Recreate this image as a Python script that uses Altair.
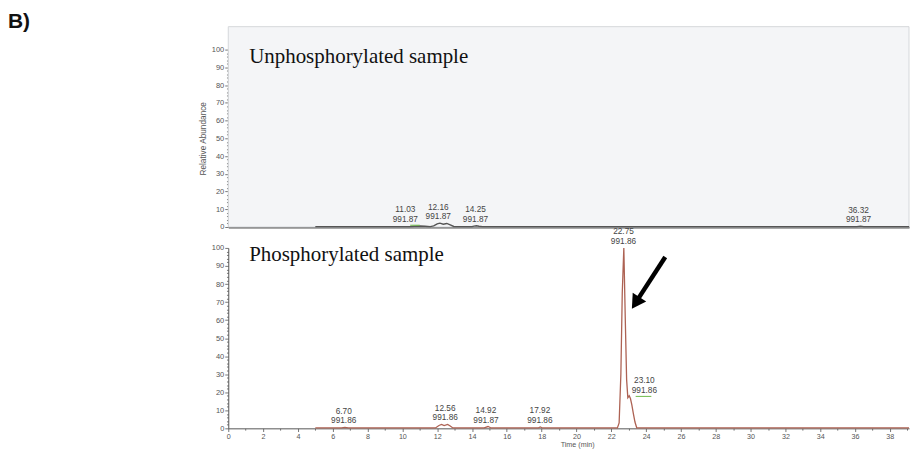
import altair as alt
import pandas as pd

# ---------------- data ----------------
# Unphosphorylated sample trace (time in min, relative abundance %)
top_time = [5.0, 10.4, 10.7, 11.0, 11.3, 11.6, 11.8, 12.0, 12.16, 12.35, 12.55, 12.75, 12.95, 13.2,
            14.0, 14.12, 14.25, 14.4, 14.6, 20.0, 30.0, 36.1, 36.32, 36.5, 39.1]
top_abund = [0.2, 0.2, 0.4, 0.6, 0.4, 0.2, 0.6, 1.8, 2.2, 1.6, 2.0, 1.2, 0.3, 0.2,
             0.2, 0.5, 0.7, 0.4, 0.2, 0.2, 0.2, 0.2, 0.5, 0.2, 0.2]

# Phosphorylated sample trace
bot_time = [5.0, 6.5, 6.7, 6.9, 11.9, 12.1, 12.25, 12.4, 12.6, 12.75, 12.9,
            14.7, 14.92, 15.1, 17.8, 17.92, 18.05,
            22.35, 22.45, 22.55, 22.63, 22.72, 22.8, 22.88, 22.95, 23.03, 23.1, 23.18, 23.27, 23.36, 23.46, 39.1]
bot_abund = [0.2, 0.2, 0.5, 0.2, 0.2, 1.6, 2.2, 1.5, 2.2, 1.3, 0.2,
             0.2, 1.0, 0.2, 0.2, 0.8, 0.2,
             0.2, 3.0, 30.0, 75.0, 100.0, 62.0, 27.0, 17.0, 18.0, 16.5, 13.0, 8.0, 3.5, 0.3, 0.2]

# Peak annotations (retention time, m/z) and where their labels sit
top_rt = ["11.03", "12.16", "14.25", "36.32"]
top_mz = ["991.87", "991.87", "991.87", "991.87"]
top_lab_x = [10.17, 12.06, 14.2, 36.2]
top_lab_y = [0.6, 2.2, 0.7, 0.5]

bot_rt = ["6.70", "12.56", "14.92", "17.92", "22.75", "23.10"]
bot_mz = ["991.86", "991.86", "991.87", "991.86", "991.86", "991.86"]
bot_lab_x = [6.63, 12.46, 14.8, 17.9, 22.7, 23.9]
bot_lab_y = [0.5, 2.2, 1.0, 0.8, 100.0, 17.5]

# green integration baseline marks
top_green_x = [10.45]
top_green_x2 = [11.0]
top_green_y = [1.0]
bot_green_x = [23.4]
bot_green_x2 = [24.3]
bot_green_y = [17.7]

# arrow (bottom panel)
arrow_x = [25.1]
arrow_y = [95.0]
arrow_x2 = [23.52]
arrow_y2 = [71.5]
head_x = [23.4]
head_y = [69.5]

panel_titles = ["Unphosphorylated sample", "Phosphorylated sample"]
title_x = [1.2]
title_y = [92.5]

x_ticks = list(range(0, 40))
y_ticks = list(range(0, 101, 2))

# ---------------- chart ----------------
W = 683
H_TOP = 178
H_BOT = 181
XMAX = 39.1
AX = "#555555"
TRACE_TOP = "#555555"
TRACE_BOT = "#ad6253"
FONT = "Liberation Sans"

xs = alt.Scale(domain=[0, XMAX], nice=False, zero=False)
ys = alt.Scale(domain=[0, 100], nice=False)

y_axis_common = dict(
    values=y_ticks,
    labelExpr="datum.value % 10 === 0 ? datum.label : ''",
    tickSize={"condition": {"test": "datum.value % 10 === 0", "value": 3.5}, "value": 1.8},
    labelFontSize=7.5, labelFont=FONT, labelColor=AX, labelPadding=1,
    labelOverlap=False, labelFlush=False,
    domainColor=AX, tickColor=AX, domainWidth=1, tickWidth=0.8, grid=False,
)

top_x_enc = alt.X("t:Q", scale=xs,
                  axis=alt.Axis(domain=True, domainColor=AX, domainWidth=2, ticks=False,
                                labels=False, title=None, grid=False))
top_y_enc = alt.Y("a:Q", scale=ys,
                  axis=alt.Axis(title="Relative Abundance", titleFont=FONT, titleFontSize=8.3,
                                titleFontWeight="normal", titleColor=AX, titlePadding=4,
                                **y_axis_common))
bot_x_enc = alt.X("t:Q", scale=xs,
                  axis=alt.Axis(values=x_ticks,
                                labelExpr="datum.value % 2 === 0 ? datum.label : ''",
                                tickSize={"condition": {"test": "datum.value % 2 === 0", "value": 3.2},
                                          "value": 1.8},
                                labelFontSize=7.2, labelFont=FONT, labelColor=AX, labelPadding=1.5,
                                labelOverlap=False, labelFlush=False,
                                domainColor=AX, tickColor=AX, domainWidth=1, tickWidth=0.8,
                                grid=False, title="Time (min)", titleFont=FONT, titleFontSize=7.2,
                                titleFontWeight="normal", titleColor=AX, titlePadding=0,
                                titleX=350))
bot_y_enc = alt.Y("a:Q", scale=ys, axis=alt.Axis(title=None, **y_axis_common))


def labels_layers(rt, mz, lx, ly):
    df = pd.DataFrame({"t": lx, "a": ly, "rt": rt, "mz": mz})
    base = alt.Chart(df)
    l1 = base.mark_text(fontSize=8.3, font=FONT, color="#444", baseline="bottom", dy=-11.5).encode(
        text="rt:N")
    l2 = base.mark_text(fontSize=8.3, font=FONT, color="#444", baseline="bottom", dy=-2).encode(
        text="mz:N")
    return [l1, l2]


def green_layer(gx, gx2, gy):
    df = pd.DataFrame({"t": gx, "t2": gx2, "a": gy})
    return alt.Chart(df).mark_rule(color="#6dbb4a", strokeWidth=1).encode(x2="t2:Q")


def title_layer(txt):
    df = pd.DataFrame({"t": title_x, "a": title_y, "txt": [txt]})
    return alt.Chart(df).mark_text(font="Liberation Serif", fontSize=21, color="#111",
                                   align="left", baseline="alphabetic").encode(text="txt:N")


# ---- top panel ----
one = pd.DataFrame({"z": [0]})
top_bg = alt.Chart(one).mark_rect(fill="#f4f5f7", stroke="#d6d8db", strokeWidth=1).encode(
    x=alt.value(0), x2=alt.value(W), y=alt.value(-23), y2=alt.value(H_TOP))

top_line = alt.Chart(pd.DataFrame({"t": top_time, "a": top_abund})).mark_line(
    color=TRACE_TOP, strokeWidth=1.4).encode(order="t:Q")

b_label = alt.Chart(one).mark_text(text="B)", font=FONT, fontSize=21, fontWeight="bold",
                                   color="#111", align="left", baseline="alphabetic").encode(
    x=alt.value(-221), y=alt.value(-22))

top = alt.layer(top_bg, top_line, *labels_layers(top_rt, top_mz, top_lab_x, top_lab_y),
                green_layer(top_green_x, top_green_x2, top_green_y),
                title_layer(panel_titles[0]), b_label).encode(
    x=top_x_enc, y=top_y_enc).properties(width=W, height=H_TOP)

# ---- bottom panel ----
bot_line = alt.Chart(pd.DataFrame({"t": bot_time, "a": bot_abund})).mark_line(
    color=TRACE_BOT, strokeWidth=1.3).encode(order="t:Q")

arrow_df = pd.DataFrame({"t": arrow_x, "a": arrow_y, "t2": arrow_x2, "a2": arrow_y2})
arrow_shaft = alt.Chart(arrow_df).mark_rule(color="black", strokeWidth=4.5).encode(
    x2="t2:Q", y2="a2:Q")
arrow_head = alt.Chart(pd.DataFrame({"t": head_x, "a": head_y})).mark_point(
    shape="triangle-up", filled=True, size=260, angle=213, color="black", opacity=1)

bottom = alt.layer(bot_line, *labels_layers(bot_rt, bot_mz, bot_lab_x, bot_lab_y),
                   green_layer(bot_green_x, bot_green_x2, bot_green_y),
                   arrow_shaft, arrow_head,
                   title_layer(panel_titles[1])).encode(
    x=bot_x_enc, y=bot_y_enc).properties(width=W, height=H_BOT)

chart = alt.vconcat(top, bottom, spacing=21, bounds="flush").properties(
    padding={"left": 0, "top": 2, "right": 0, "bottom": 0},
    background="white",
).configure_view(stroke=None)

chart.save("out.html", embed_options={"renderer": "svg", "actions": False})
